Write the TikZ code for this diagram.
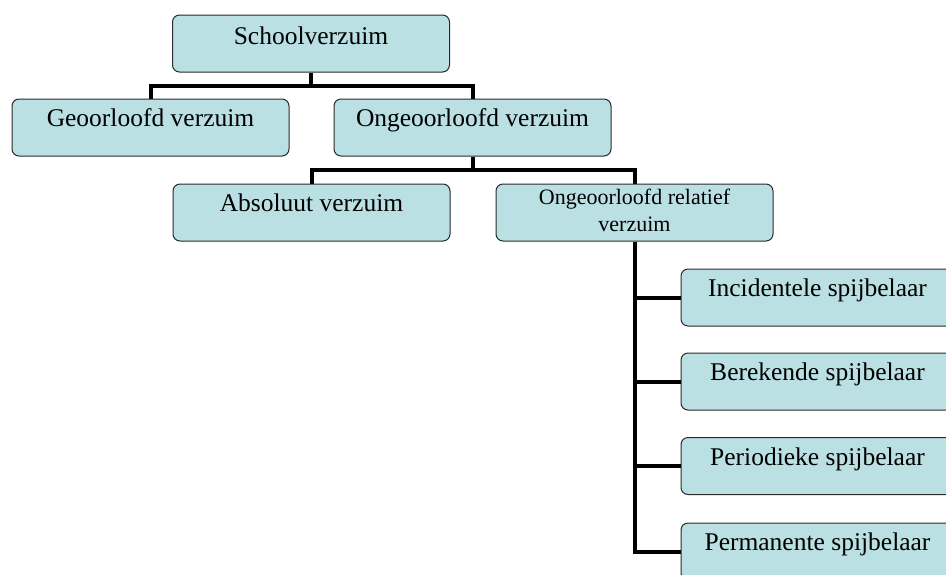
\documentclass[tikz,border=0pt]{standalone}
\usepackage{fontspec}
\setmainfont{Liberation Serif}
\definecolor{boxfill}{HTML}{BBE0E3}
\definecolor{boxline}{HTML}{2A2A2A}
\begin{document}
\begin{tikzpicture}[x=1pt,y=-1pt,
  orgbox/.style={draw=boxline, line width=1pt, fill=boxfill, rounded corners=7pt,
    minimum width=277pt, minimum height=57pt, inner sep=0pt},
  lbl/.style={anchor=base, inner sep=0pt, font=\fontsize{25.5}{30}\selectfont},
  smalllbl/.style={anchor=base, inner sep=0pt, align=center, font=\fontsize{22}{27}\selectfont},
  conn/.style={line width=4pt, black}]
\path[use as bounding box, clip] (0,0) rectangle (946,574);
% boxes
\node[orgbox] (top)  at (311,43.5) {};
\node[orgbox] (geo)  at (150.5,127.5) {};
\node[orgbox] (onge) at (472.5,127.5) {};
\node[orgbox] (abs)  at (311.5,212.5) {};
\node[orgbox] (rel)  at (634.5,212.5) {};
\node[orgbox] (r1)   at (819.5,297.5) {};
\node[orgbox] (r2)   at (819.5,381.5) {};
\node[orgbox] (r3)   at (819.5,466) {};
\node[orgbox] (r4)   at (819.5,551.5) {};
% labels
\node[lbl] at ([yshift=-30pt]top.north)  {Schoolverzuim};
\node[lbl] at ([yshift=-28pt]geo.north)  {Geoorloofd verzuim};
\node[lbl] at ([yshift=-28pt]onge.north) {Ongeoorloofd verzuim};
\node[lbl] at ([yshift=-28pt]abs.north)  {Absoluut verzuim};
\node[smalllbl] at ([yshift=-21pt]rel.north) {Ongeoorloofd relatief};
\node[smalllbl] at ([yshift=-48pt]rel.north) {verzuim};
\node[lbl] at ([xshift=-2pt,yshift=-28pt]r1.north) {Incidentele spijbelaar};
\node[lbl] at ([xshift=-2pt,yshift=-28pt]r2.north) {Berekende spijbelaar};
\node[lbl] at ([xshift=-2pt,yshift=-28pt]r3.north) {Periodieke spijbelaar};
\node[lbl] at ([xshift=-2pt,yshift=-28pt]r4.north) {Permanente spijbelaar};
% connectors
\coordinate (j1) at (311,86);
\coordinate (j2) at (472.5,170);
\draw[conn] (top.south) -- (j1);
\draw[conn] (geo.north) |- (j1) -| (onge.north);
\draw[conn] (onge.south) -- (j2);
\draw[conn] (abs.north) |- (j2) -| (rel.north);
\draw[conn] (rel.south) |- (r4.west);
\draw[conn] (rel.south |- r1.west) -- (r1.west);
\draw[conn] (rel.south |- r2.west) -- (r2.west);
\draw[conn] (rel.south |- r3.west) -- (r3.west);
\end{tikzpicture}
\end{document}
